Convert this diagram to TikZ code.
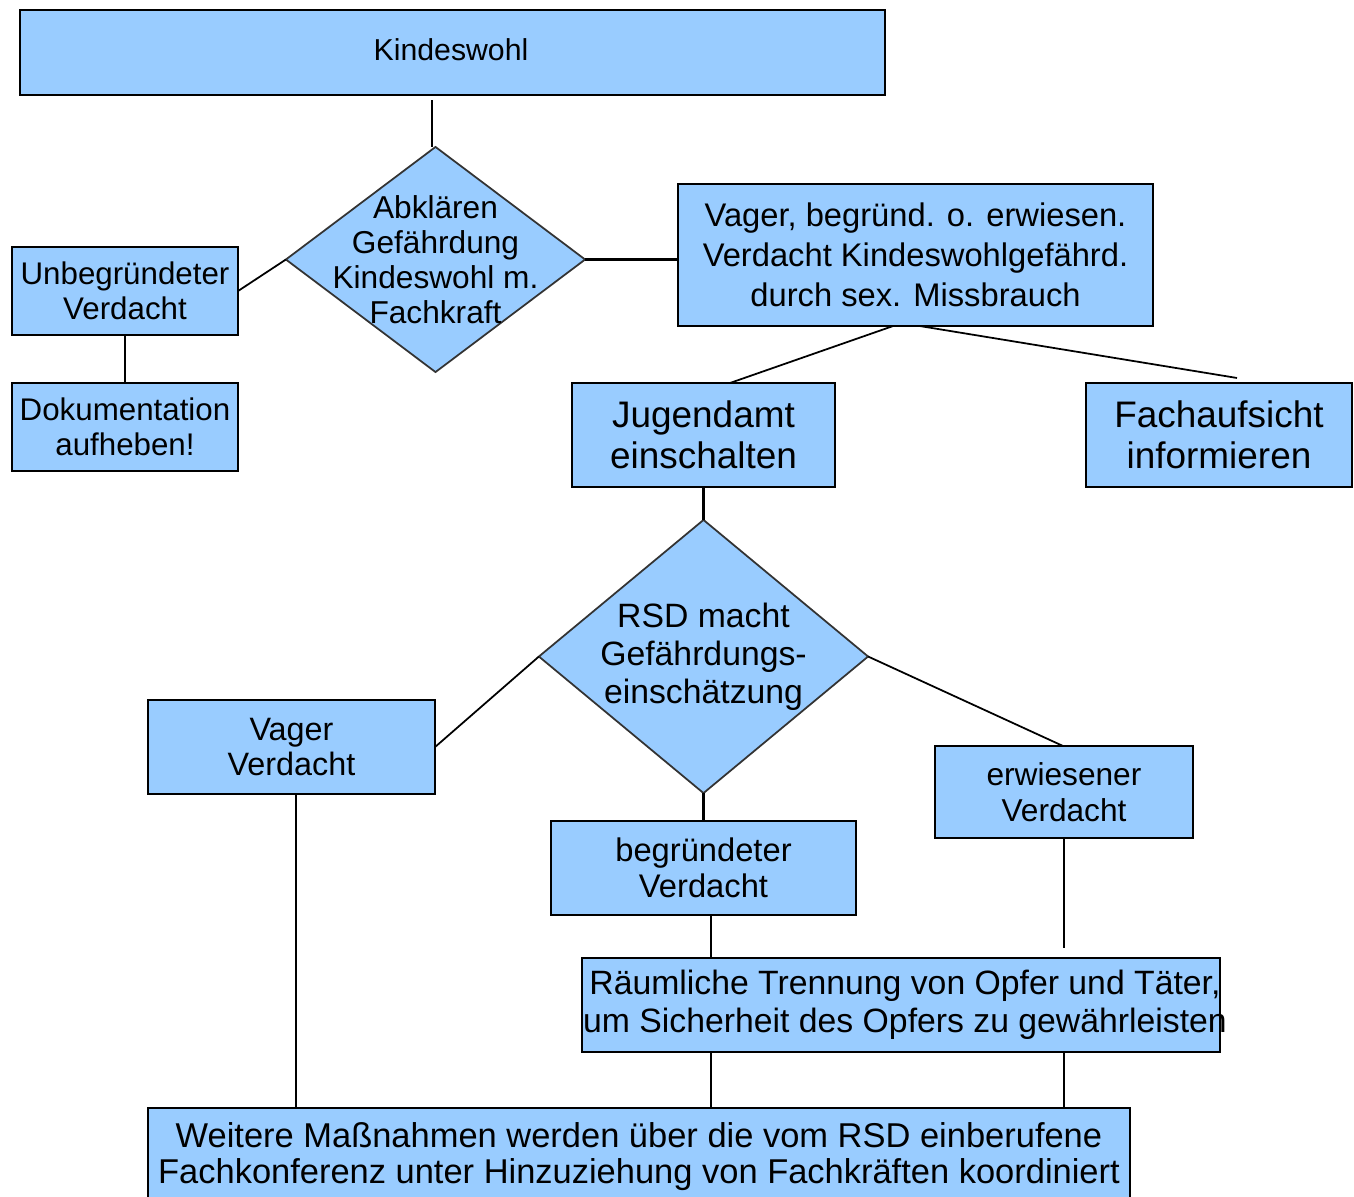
\documentclass[tikz,border=0pt]{standalone}
\usepackage{fontspec}
\setmainfont{Liberation Sans}
\usetikzlibrary{shapes.geometric}
\definecolor{boxblue}{RGB}{153,204,255}
\definecolor{diaborder}{RGB}{51,51,51}
\begin{document}
\begin{tikzpicture}[x=0.01cm,y=-0.01cm,
  box/.style={draw=black, line width=0.6pt, fill=boxblue, inner sep=0pt, outer sep=0pt, align=center},
  dia/.style={diamond, draw=diaborder, line width=0.5pt, fill=boxblue, inner sep=0pt, outer sep=0pt},
  lbl/.style={align=center, inner sep=0pt},
  conn/.style={line width=0.5pt},
  thickconn/.style={line width=0.8pt}]
\useasboundingbox (0,0) rectangle (1354,1196);

\node[box, minimum width=8.65cm, minimum height=0.85cm] (kw) at (452.5,52.5) {};
\node[lbl, font=\fontsize{8.6}{10}\selectfont] (kwt) at (451,50) {Kindeswohl};

\node[dia, minimum width=2.99cm, minimum height=2.25cm] (d1) at (435.5,259.5) {};
\node[lbl, font=\fontsize{9}{10}\selectfont] (d1t) at (d1.center) {Abklären\\Gefährdung\\Kindeswohl m.\\Fachkraft};

\node[box, minimum width=2.26cm, minimum height=0.88cm, font=\fontsize{8.9}{10}\selectfont] (unb) at (125,291) {Unbegründeter\\Verdacht};
\node[box, minimum width=2.26cm, minimum height=0.88cm, font=\fontsize{8.9}{10}\selectfont] (dok) at (125,427) {Dokumentation\\aufheben!};

\node[box, minimum width=4.75cm, minimum height=1.42cm, font=\fontsize{9.3}{11.4}\selectfont] (vag) at (915.5,255) {Vager, begründ. o. erwiesen.\\Verdacht Kindeswohlgefährd.\\durch sex. Missbrauch};

\node[box, minimum width=2.63cm, minimum height=1.04cm, font=\fontsize{10.5}{11.7}\selectfont] (jug) at (703.5,435) {Jugendamt\\einschalten};
\node[box, minimum width=2.66cm, minimum height=1.04cm, font=\fontsize{10.5}{11.7}\selectfont] (fach) at (1219,435) {Fachaufsicht\\informieren};

\node[dia, minimum width=3.29cm, minimum height=2.73cm] (d2) at (703.5,656.5) {};
\node[lbl, font=\fontsize{9.6}{10.8}\selectfont] (d2t) at (d2.center) {RSD macht\\Gefährdungs-\\einschätzung};

\node[box, minimum width=2.87cm, minimum height=0.94cm, font=\fontsize{9.2}{10.2}\selectfont] (vv) at (291.5,747) {Vager\\Verdacht};
\node[box, minimum width=2.58cm, minimum height=0.92cm, font=\fontsize{9}{10.2}\selectfont] (erw) at (1064,792) {erwiesener\\Verdacht};
\node[box, minimum width=3.05cm, minimum height=0.94cm, font=\fontsize{9.3}{10.2}\selectfont] (beg) at (703.5,868) {begründeter\\Verdacht};

\node[box, minimum width=6.38cm, minimum height=0.94cm] (rt) at (901,1005) {};
\node[lbl, font=\fontsize{9.6}{10.8}\selectfont] (rtt) at (905,1004.5) {Räumliche Trennung von Opfer und Täter,\\um Sicherheit des Opfers zu gewährleisten};

\node[box, minimum width=9.82cm, minimum height=0.97cm, font=\fontsize{9.8}{10.24}\selectfont] (wm) at (639,1156.5) {Weitere Maßnahmen werden über die vom RSD einberufene\\Fachkonferenz unter Hinzuziehung von Fachkräften koordiniert};

% connectors
\coordinate (k1) at (432,100);
\draw[thickconn] (k1) -- (k1 |- d1.north);
\draw[conn] (unb.east) -- (d1.west);
\draw[thickconn] (d1.east) -- (d1.east -| vag.west);
\draw[conn] (unb.south) -- (dok.north);
\draw[conn] ([xshift=-0.225cm]vag.south) -- ([xshift=0.265cm]jug.north);
\draw[conn] ([xshift=0.045cm]vag.south) -- ([xshift=0.18cm,yshift=0.05cm]fach.north);
\draw[thickconn] (jug.south) -- (d2.north);
\draw[conn] (d2.west) -- (vv.east);
\draw[conn] (d2.east) -- ([xshift=-0.01cm]erw.north);
\draw[thickconn] (d2.south) -- (beg.north);
\draw[conn] ([xshift=0.075cm]beg.south) -- ([xshift=0.075cm]beg.south |- rt.north);
\coordinate (e1) at (1064,948);
\draw[conn] (erw.south) -- (e1);
\draw[conn] ([xshift=-1.9cm]rt.south) -- ([xshift=-1.9cm]rt.south |- wm.north);
\draw[conn] ([xshift=1.63cm]rt.south) -- ([xshift=1.63cm]rt.south |- wm.north);
\draw[conn] ([xshift=0.045cm]vv.south) -- ([xshift=0.045cm]vv.south |- wm.north);
\end{tikzpicture}
\end{document}
